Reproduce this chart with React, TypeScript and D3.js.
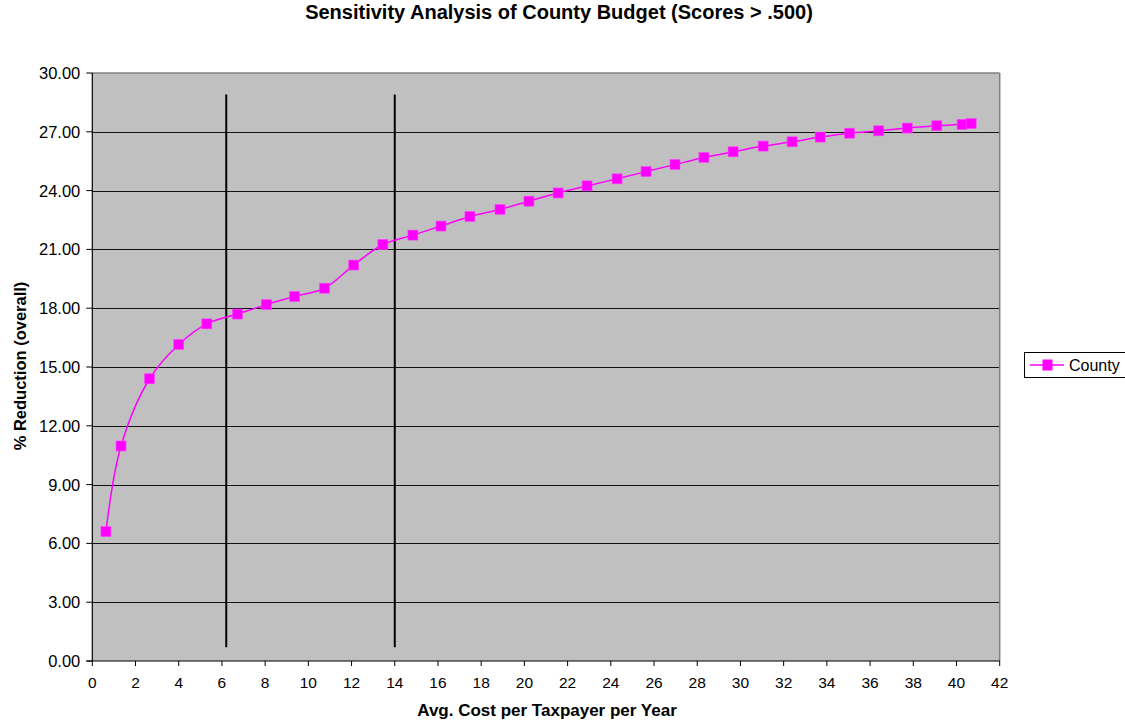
import React from "react";
import * as d3 from "d3";

const xValues = [0.63, 1.33, 2.65, 4.0, 5.3, 6.72, 8.05, 9.36, 10.75, 12.1, 13.45, 14.84, 16.14, 17.48, 18.87, 20.21, 21.56, 22.9, 24.29, 25.63, 26.97, 28.31, 29.66, 31.05, 32.39, 33.69, 35.05, 36.4, 37.72, 39.09, 40.26, 40.68];
const yValues = [6.6, 10.97, 14.4, 16.15, 17.2, 17.7, 18.18, 18.6, 19.02, 20.2, 21.25, 21.73, 22.19, 22.68, 23.04, 23.46, 23.88, 24.24, 24.6, 24.97, 25.33, 25.69, 25.98, 26.27, 26.49, 26.73, 26.93, 27.05, 27.19, 27.31, 27.38, 27.42];
const xTicks = d3.range(0, 43, 2);
const yTicks = d3.range(0, 31, 3);
const vLinesX = [6.2, 14.0];
const vLineRange = [0.7, 28.9];
const seriesName = "County";
const title = "Sensitivity Analysis of County Budget (Scores > .500)";
const xTitle = "Avg. Cost per Taxpayer per Year";
const yTitle = "% Reduction (overall)";

export default function App() {
  const W = 1125, H = 721;
  const L = 92.3, R = 999.7, T = 73, B = 661;
  const x = d3.scaleLinear().domain([0, 42]).range([L, R]);
  const y = d3.scaleLinear().domain([0, 30]).range([B, T]);
  const pts = xValues.map((v, i) => [x(v), y(yValues[i])] as [number, number]);
  const line = d3.line().curve(d3.curveCatmullRom.alpha(0.5))(pts) || "";
  const font = "'Liberation Sans', Arial, sans-serif";
  const magenta = "#FF00FF";
  const ms = 10;
  return (
    <svg width={W} height={H} style={{ position: "absolute", left: 0, top: 0, fontFamily: font }}>
      <rect x={0} y={0} width={W} height={H} fill="#fff" />
      <text x={559} y={18.5} textAnchor="middle" fontSize={20} fontWeight="bold">{title}</text>
      <rect x={L} y={T} width={R - L} height={B - T} fill="#C0C0C0" />
      {yTicks.filter(t => t > 0 && t < 30).map(t => (
        <line key={"g" + t} x1={L} x2={R} y1={Math.round(y(t)) + 0.5} y2={Math.round(y(t)) + 0.5} stroke="#111" strokeWidth={1} />
      ))}
      <line x1={L} x2={R} y1={T} y2={T} stroke="#808080" strokeWidth={1.5} />
      <line x1={R} x2={R} y1={T} y2={B} stroke="#808080" strokeWidth={1.5} />
      <line x1={L} x2={L} y1={T} y2={B} stroke="#000" strokeWidth={1.2} />
      <line x1={L - 6} x2={R} y1={B} y2={B} stroke="#000" strokeWidth={1.2} />
      {yTicks.map(t => (
        <g key={"y" + t}>
          <line x1={L - 6} x2={L} y1={y(t)} y2={y(t)} stroke="#000" />
          <text x={L - 12} y={y(t) + 6} textAnchor="end" fontSize={16.5}>{t.toFixed(2)}</text>
        </g>
      ))}
      {xTicks.map(t => (
        <g key={"x" + t}>
          <line x1={x(t)} x2={x(t)} y1={B} y2={B + 5} stroke="#000" />
          <text x={x(t)} y={B + 26.5} textAnchor="middle" fontSize={15.5}>{t}</text>
        </g>
      ))}
      {vLinesX.map(v => (
        <line key={"v" + v} x1={x(v)} x2={x(v)} y1={y(vLineRange[0])} y2={y(vLineRange[1])} stroke="#000" strokeWidth={2} />
      ))}
      <path d={line} fill="none" stroke={magenta} strokeWidth={1.5} />
      {pts.map((p, i) => (
        <rect key={"m" + i} x={p[0] - ms / 2} y={p[1] - ms / 2} width={ms} height={ms} fill={magenta} stroke="#FF44FF" strokeWidth={0.6} />
      ))}
      <text x={547} y={716} textAnchor="middle" fontSize={17} fontWeight="bold">{xTitle}</text>
      <text transform={`translate(26,366) rotate(-90)`} textAnchor="middle" fontSize={16.5} fontWeight="bold">{yTitle}</text>
      <rect x={1024.5} y={352.5} width={110} height={25} fill="#fff" stroke="#000" strokeWidth={1} />
      <line x1={1030} x2={1064} y1={365} y2={365} stroke={magenta} strokeWidth={1.5} />
      <rect x={1042.5} y={359.5} width={10} height={11} fill={magenta} />
      <text x={1069} y={371} fontSize={16}>{seriesName}</text>
    </svg>
  );
}
